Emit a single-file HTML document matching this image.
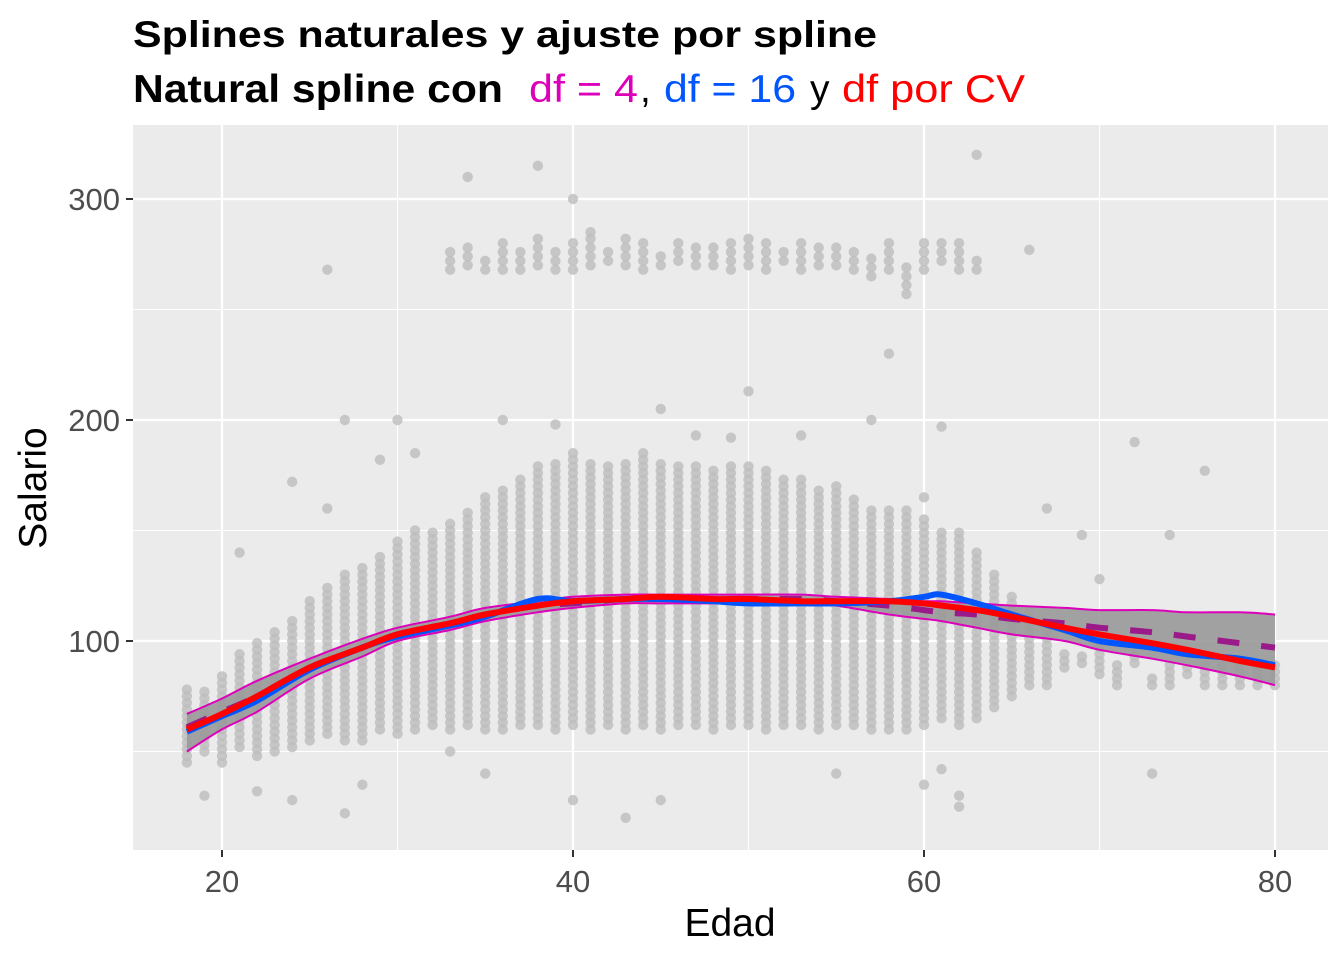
<!DOCTYPE html>
<html><head><meta charset="utf-8"><style>
html,body{margin:0;padding:0;background:#fff;}
svg{display:block;font-family:"Liberation Sans",sans-serif;}
</style></head><body>
<svg id="chart" width="1344" height="960" viewBox="0 0 1344 960">
<g>
<text x="133" y="47" font-size="37" font-weight="bold" textLength="744" lengthAdjust="spacingAndGlyphs">Splines naturales y ajuste por spline</text>
<text x="133" y="102" font-size="39" font-weight="bold" textLength="370" lengthAdjust="spacingAndGlyphs">Natural spline con</text>
<text x="529" y="102" font-size="39" fill="#dd00bb" textLength="109" lengthAdjust="spacingAndGlyphs">df = 4</text>
<text x="640" y="102" font-size="39">,</text>
<text x="664" y="102" font-size="39" fill="#0055ff" textLength="132" lengthAdjust="spacingAndGlyphs">df = 16</text>
<text x="810" y="102" font-size="39">y</text>
<text x="842" y="102" font-size="39" fill="#ff0000" textLength="183" lengthAdjust="spacingAndGlyphs">df por CV</text>
</g>
<rect x="133" y="125" width="1195" height="725" fill="#ebebeb"/>
<g id="grid"></g>
<g id="pts"></g>
<g id="fits"></g>
<g id="axes"></g>
<text x="730" y="936" font-size="39" text-anchor="middle">Edad</text>
<text transform="translate(46,488) rotate(-90)" font-size="39" text-anchor="middle">Salario</text>
</svg>
<script>
const xTicks=[20,40,60,80];
const yTicks=[100,200,300];
const xMinor=[30,50,70];
const yMinor=[50,150,250];
const ages=[18,19,20,21,22,23,24,25,26,27,28,29,30,31,32,33,34,35,36,37,38,39,40,41,42,43,44,45,46,47,48,49,50,51,52,53,54,55,56,57,58,59,60,61,62,63,64,65,66,67,68,69,70,71,72,73,74,75,76,77,78,79,80];
const bandLo=[45,50,48,52,48,50,52,55,58,55,55,60,58,60,62,60,62,60,60,62,62,60,62,60,62,60,62,60,62,62,60,62,62,60,62,62,60,62,62,60,60,60,62,65,62,65,70,75,80,80,88,90,85,80,90,80,80,85,80,80,80,80,80];
const bandHi=[78,78,85,95,100,105,110,120,125,130,135,140,145,150,150,155,160,165,170,175,180,180,185,180,180,180,185,180,180,180,178,180,180,178,175,175,170,170,165,160,160,160,155,150,150,140,130,120,115,105,95,95,100,90,95,85,90,90,90,90,90,90,90];
const outAges=[19,20,21,22,24,24,26,27,29,30,31,34,38,40,41,45,47,49,50,53,57,58,60,61,62,63,66,67,69,70,72,73,74,76,26,27,28,33,35,45,60,62,55,40,36,39,43,61];
const outVals=[30,45,140,32,172,28,160,200,182,200,185,310,315,300,285,205,193,192,213,193,200,230,165,197,25,320,277,160,148,128,190,40,148,177,268,22,35,50,40,28,35,30,40,28,200,198,20,42];
const hiAges=[33,34,35,36,37,38,39,40,41,42,43,44,45,46,47,48,49,50,51,52,53,54,55,56,57,58,59,60,61,62,63];
const hiLo=[268,270,268,268,268,270,268,268,270,272,270,268,270,272,270,270,268,270,268,272,268,270,270,268,265,268,257,268,272,268,268];
const hiHi=[278,278,275,280,278,283,278,280,285,278,282,280,275,283,278,280,280,282,283,278,282,278,280,278,275,280,270,280,283,280,275];
const fitAges=[18,20,22,25,28,30,33,35,38,40,43,45,48,50,53,55,58,60,61,63,65,68,70,73,75,78,80];
const df4=[61,68,75,88,97,103,108,112,116,117,119,119,119,119,119,118,116,114,113,112,110,108,106,104,102,99,97];
const df4Lo=[50,60,68,83,93,100,105,109,113,115,117,117,117,117,117,116,112,110,109,106,103,100,96,92,89,84,80];
const df4Hi=[67,74,82,92,101,106,111,115,118,120,121,121,121,121,121,120,119,118,118,117,116,115,114,114,113,113,112];
const dfCV=[60,67,75,88,97,103,108,112,116,118,119,120,119,119,118,118,118,117,116,114,111,106,103,99,96,91,88];
const df16=[59,66,73,87,97,102,107,111,119,118,119,119,118,117,117,117,118,120,121,117,112,105,100,97,94,92,89];
const svg=document.getElementById('chart'),NS='http://www.w3.org/2000/svg';
const X=v=>222+(v-20)*(1275-222)/60;
const Y=v=>641-(v-100)*(641-199)/200;
function el(t,a,p){const e=document.createElementNS(NS,t);for(const k in a)e.setAttribute(k,a[k]);p.appendChild(e);return e;}
const grid=document.getElementById('grid');
xMinor.forEach(v=>{const l=el('line',{x1:X(v),x2:X(v),y1:125,y2:850,stroke:'#fff','stroke-width':1.1},grid);});
yMinor.forEach(v=>{const l=el('line',{x1:133,x2:1328,y1:Y(v),y2:Y(v),stroke:'#fff','stroke-width':1.1},grid);});
xTicks.forEach(v=>{const l=el('line',{x1:X(v),x2:X(v),y1:125,y2:850,stroke:'#fff','stroke-width':2.2},grid);});
yTicks.forEach(v=>{const l=el('line',{x1:133,x2:1328,y1:Y(v),y2:Y(v),stroke:'#fff','stroke-width':2.2},grid);});
const pts=document.getElementById('pts');
function dot(a,v){const c=el('circle',{cx:X(a),cy:Y(v),r:5.2,fill:'#bdbdbd','fill-opacity':0.8},pts);}
ages.forEach((a,i)=>{for(let v=bandLo[i];v<=bandHi[i];v+=3)dot(a,v);});
hiAges.forEach((a,i)=>{for(let v=hiLo[i];v<=hiHi[i];v+=4)dot(a,v);});
outAges.forEach((a,i)=>dot(a,outVals[i]));
const fits=document.getElementById('fits');
function smooth(arr,rev){
  let P=arr.map((v,i)=>[X(fitAges[i]),Y(v)]);if(rev)P=P.reverse();
  let d='';
  for(let i=0;i<P.length-1;i++){
    const p0=P[Math.max(i-1,0)],p1=P[i],p2=P[i+1],p3=P[Math.min(i+2,P.length-1)];
    const c1=[p1[0]+(p2[0]-p0[0])/6,p1[1]+(p2[1]-p0[1])/6],c2=[p2[0]-(p3[0]-p1[0])/6,p2[1]-(p3[1]-p1[1])/6];
    d+=' C'+c1[0].toFixed(1)+','+c1[1].toFixed(1)+' '+c2[0].toFixed(1)+','+c2[1].toFixed(1)+' '+p2[0].toFixed(1)+','+p2[1].toFixed(1);
  }
  return {start:P[0],d:d};
}
const path=arr=>{const s=smooth(arr,false);return 'M'+s.start[0].toFixed(1)+','+s.start[1].toFixed(1)+s.d;};
const lo=smooth(df4Lo,true);
let rib=path(df4Hi)+' L'+lo.start[0].toFixed(1)+','+lo.start[1].toFixed(1)+lo.d+'Z';
let r=el('path',{d:rib,fill:'#999','fill-opacity':0.9},fits);
let p;
p=el('path',{d:path(df4Hi),fill:'none',stroke:'#dd00bb','stroke-width':2},fits);
p=el('path',{d:path(df4Lo),fill:'none',stroke:'#dd00bb','stroke-width':2},fits);
p=el('path',{d:path(df4),fill:'none',stroke:'#9b1a8a','stroke-width':6,'stroke-dasharray':'22,22'},fits);
p=el('path',{d:path(df16),fill:'none',stroke:'#0055ff','stroke-width':6,'stroke-linejoin':'round'},fits);
p=el('path',{d:path(dfCV),fill:'none',stroke:'#ff0000','stroke-width':6,'stroke-linejoin':'round'},fits);
const axes=document.getElementById('axes');
xTicks.forEach(v=>{let t=el('line',{x1:X(v),x2:X(v),y1:850,y2:857,stroke:'#333','stroke-width':2},axes);
let s=el('text',{x:X(v),y:892,'font-size':31,fill:'#4d4d4d','text-anchor':'middle'},axes);s.textContent=v;});
yTicks.forEach(v=>{let t=el('line',{x1:126,x2:133,y1:Y(v),y2:Y(v),stroke:'#333','stroke-width':2},axes);
let s=el('text',{x:120,y:Y(v)+11,'font-size':31,fill:'#4d4d4d','text-anchor':'end'},axes);s.textContent=v;});
</script>
</body></html>
